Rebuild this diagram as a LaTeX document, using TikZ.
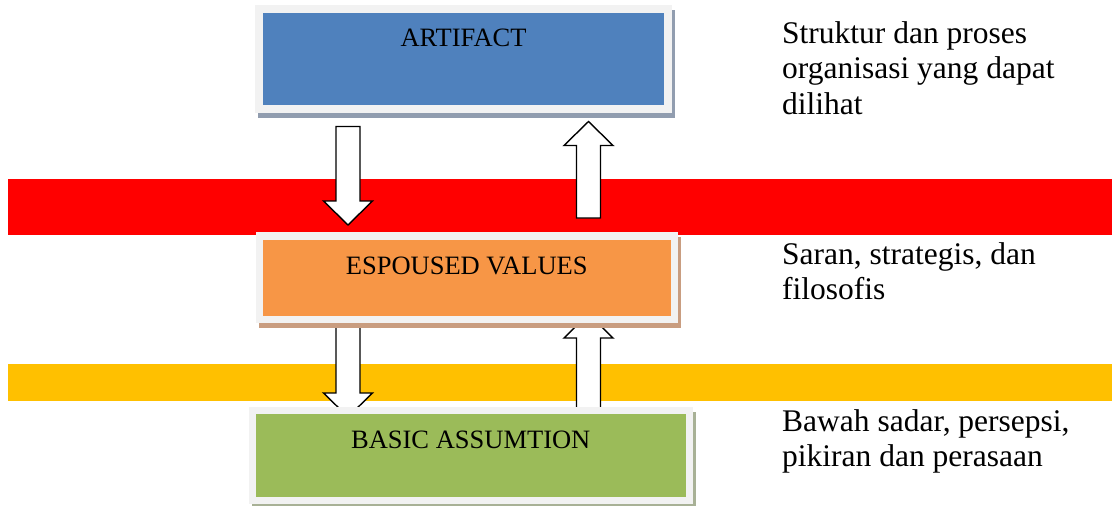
\documentclass[tikz,border=0pt]{standalone}
\usepackage{fontspec}
\setmainfont{Liberation Serif}
\usetikzlibrary{calc}

\definecolor{artblue}{HTML}{4F81BD}
\definecolor{espor}{HTML}{F79646}
\definecolor{basgreen}{HTML}{9BBB59}
\definecolor{rim}{HTML}{F2F2F2}
\definecolor{bandred}{HTML}{FF0000}
\definecolor{bandyellow}{HTML}{FFC000}
\definecolor{shblue}{RGB}{145,157,175}
\definecolor{shor}{RGB}{201,157,128}
\definecolor{shgreen}{RGB}{168,177,150}

\pgfdeclarelayer{bands}
\pgfdeclarelayer{arrows}
\pgfsetlayers{bands,arrows,main}

% hollow block arrow from #1 (tail) to #2 (tip)
\newcommand{\blockarrow}[2]{%
  \coordinate (ba-b) at ($(#2)!24pt!(#1)$);
  \draw[blockarr] ($(#1)!12pt!90:(#2)$) -- ($(ba-b)!12pt!-90:(#1)$)
     -- ($(ba-b)!24.5pt!-90:(#1)$) -- (#2) -- ($(ba-b)!24.5pt!90:(#1)$)
     -- ($(ba-b)!12pt!90:(#1)$) -- ($(#1)!12pt!-90:(#2)$) -- cycle;
}

\begin{document}
\begin{tikzpicture}[x=1pt, y=-1pt,
tier/.style = {rectangle, draw=rim, line width=7.5pt, inner sep=0pt,
               text height=20pt, font=\fontsize{26.5}{30}\selectfont},
boxshadow/.style = {preaction={draw=#1, fill=#1,
                    transform canvas={shift={(3pt,-5pt)}}}},
note/.style = {anchor=north west, align=left, inner sep=0pt,
               font=\fontsize{31.5}{35.5}\selectfont},
blockarr/.style = {draw=black, fill=white, line width=1.4pt, line join=miter}
                    ]
\useasboundingbox (0,0) rectangle (1112,506);
%
\node[tier, fill=artblue, boxshadow=shblue, minimum width=409, minimum height=100,
      text depth=46pt] (art) at (463.5,59) {ARTIFACT};
\node[tier, fill=espor, boxshadow=shor, minimum width=415, minimum height=83.5,
      text depth=27.5pt] (esp) at (466.75,277.75) {ESPOUSED VALUES};
\node[tier, fill=basgreen, boxshadow=shgreen, minimum width=437, minimum height=90,
      text depth=35pt] (bas) at (470.75,455.5) {BASIC ASSUMTION};
%
\node[note] (art-txt) at (782,21)  {Struktur dan proses\\organisasi yang dapat\\dilihat};
\node[note] (esp-txt) at (782,242) {Saran, strategis, dan\\filosofis};
\node[note] (bas-txt) at (782,409) {Bawah sadar, persepsi,\\pikiran dan perasaan};
%
\begin{pgfonlayer}{bands}
\fill[bandred]    (8,179) rectangle (1112,235);
\fill[bandyellow] (8,364) rectangle (1112,401);
\end{pgfonlayer}
%
\begin{pgfonlayer}{arrows}
\coordinate (dn1a) at ($(art.south)+(-115.5,13.75)$);
\coordinate (dn1b) at ($(esp.north)+(-118.75,-7.25)$);
\coordinate (up1a) at ($(esp.north)+(121.75,-14.25)$);
\coordinate (up1b) at ($(art.south)+(125,8.75)$);
\coordinate (dn2a) at ($(esp.south)+(-118.75,-5)$);
\coordinate (dn2b) at ($(bas.north)+(-122.75,10.25)$);
\coordinate (up2a) at ($(bas.north)+(117.75,5.25)$);
\coordinate (up2b) at ($(esp.south)+(121.75,-9.25)$);
\blockarrow{dn1a}{dn1b}
\blockarrow{up1a}{up1b}
\blockarrow{dn2a}{dn2b}
\blockarrow{up2a}{up2b}
\end{pgfonlayer}
\end{tikzpicture}
\end{document}
